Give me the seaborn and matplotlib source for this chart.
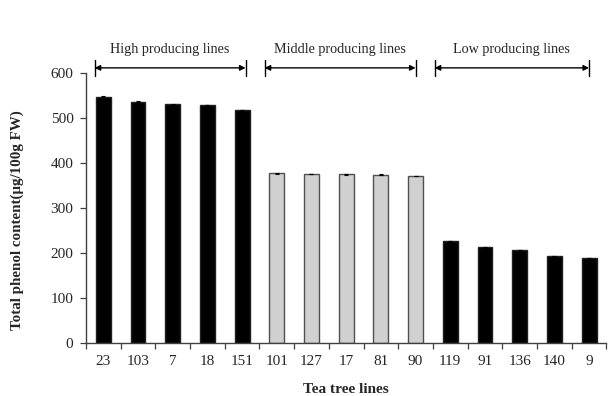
import matplotlib
matplotlib.use("Agg")
import matplotlib.pyplot as plt
import numpy as np
import pandas as pd
import seaborn as sns

# Data
lines = ["23", "103", "7", "18", "151",
         "101", "127", "17", "81", "90",
         "119", "91", "136", "140", "9"]
phenol = [548, 537, 531, 529, 518,
          377, 376, 375, 374, 371,
          227, 212, 207, 193, 189]
err = [0.5, 0.5, 1.5, 0.5, 0.5,
       0.5, 0.5, 1.5, 1.5, 0.5,
       0.5, 0.5, 0.5, 0.5, 0.5]
group = ["High"] * 5 + ["Middle"] * 5 + ["Low"] * 5
group_labels = ["High producing lines", "Middle producing lines", "Low producing lines"]
group_spans = [(-0.25, 4.1), (4.65, 9.0), (9.55, 14.0)]

df = pd.DataFrame({"line": lines, "phenol": phenol, "err": err, "group": group})

sns.set_style("white")
plt.rcParams["font.family"] = ["Liberation Serif", "DejaVu Serif"]

fill = {"High": "black", "Middle": "#d0d0d0", "Low": "black"}
edge = {"High": "#202020", "Middle": "#505050", "Low": "#202020"}

fig = plt.figure(figsize=(6.08, 3.96), dpi=100)
ax = fig.add_axes([0.1414, 0.1346, 0.856, 0.6804])

sns.barplot(ax=ax, data=df, x="line", y="phenol", hue="line",
            palette=[fill[g] for g in group], legend=False,
            width=0.43, errorbar=None, saturation=1)
for patch, g in zip(ax.patches, group):
    patch.set_edgecolor(edge[g])
    patch.set_linewidth(1.0)

ax.errorbar(np.arange(len(lines)), df["phenol"], yerr=df["err"],
            fmt="none", ecolor="black", elinewidth=0.8, capsize=1.5, capthick=0.8)

ax.set_xlim(-0.5, len(lines) - 0.5)
ax.set_ylim(0, 600)
ax.set_yticks(np.arange(0, 601, 100))

# tick marks between categories, labels under bars
ax.set_xticks(np.arange(-0.5, len(lines), 1.0), minor=True)
ax.tick_params(axis="x", which="major", length=0, pad=9, labelsize=11)
ax.tick_params(axis="x", which="minor", length=4, width=0.9, color="#404040",
               direction="out", bottom=True)
ax.tick_params(axis="y", length=4, width=0.9, color="#404040", direction="out",
               left=True, pad=5, labelsize=11)

for s in ["top", "right"]:
    ax.spines[s].set_visible(False)
for s in ["left", "bottom"]:
    ax.spines[s].set_color("#404040")
    ax.spines[s].set_linewidth(1.0)

ax.set_xlabel("Tea tree lines", fontweight="bold", fontsize=11)
ax.set_ylabel("Total phenol content(μg/100g FW)", fontweight="bold", fontsize=10.8)
ax.xaxis.set_label_coords(0.5, -0.148)
ax.yaxis.set_label_coords(-0.12, 0.455)

# group brackets above the bars
for label, (x0, x1) in zip(group_labels, group_spans):
    ax.annotate("", xy=(x0, 612), xytext=(x1, 612),
                arrowprops=dict(arrowstyle="<|-|>", color="black", lw=1.0,
                                mutation_scale=8, shrinkA=0, shrinkB=0),
                annotation_clip=False)
    for xv in (x0, x1):
        ax.plot([xv, xv], [593, 630], color="black", lw=1.0, clip_on=False)
    ax.text((x0 + x1) / 2, 654, label, ha="center", va="center", fontsize=10.2,
            clip_on=False)

fig.savefig("out.png", dpi=100)
